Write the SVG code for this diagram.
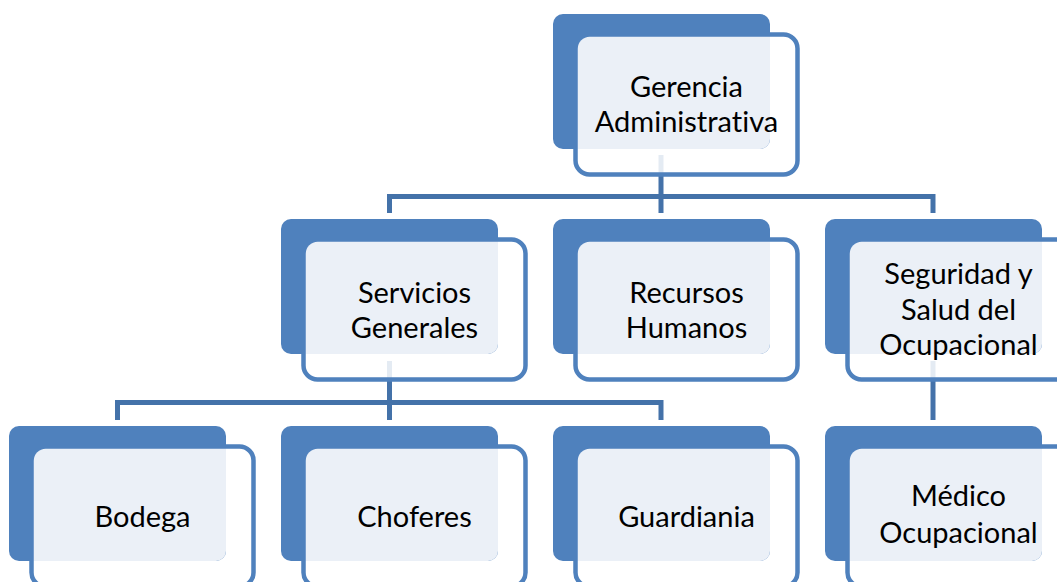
<svg xmlns="http://www.w3.org/2000/svg" width="1057" height="582" viewBox="0 0 1057 582">
<style>
.dk{fill:#4F81BD}
.ol{fill:#fff;fill-opacity:0.86;stroke:#4F81BD;stroke-width:4.5}
.lt{fill:#EBF0F7}
.cn{fill:none;stroke:#4472A9;stroke-width:5;stroke-linejoin:miter;stroke-linecap:butt}
text{font-family:Lato,"Liberation Sans",sans-serif;font-size:29px;fill:#000;text-anchor:middle;font-variant-ligatures:none}
</style>
<defs>
<g id="box">
<rect class="ol" x="22.5" y="20.5" width="222" height="140" rx="14"/>
<rect class="dk" x="0" y="0" width="217" height="135" rx="10"/>
<path class="lt" d="M24.75,34.75 A12,12 0 0 1 36.75,22.75 L217,22.75 L217,125 A10,10 0 0 1 207,135 L24.75,135 Z"/>
</g>
</defs>
<rect width="1057" height="582" fill="#fff"/>
<g id="connectors">
<path class="cn" d="M661,155 V196.5 M389.5,213 V196.5 H933 V213 M661,196.5 V213"/>
<path class="cn" d="M389.5,361 V420 M117.5,420 V402.5 H661 V420"/>
<path class="cn" d="M933,361 V420"/>
</g>
<g id="gerencia" transform="translate(553,14)">
<use href="#box"/>
<text x="133.5" y="83">Gerencia</text>
<text x="133.5" y="118">Administrativa</text>
</g>
<g id="servicios" transform="translate(281,219)">
<use href="#box"/>
<text x="133.5" y="84">Servicios</text>
<text x="133.5" y="119">Generales</text>
</g>
<g id="recursos" transform="translate(553,219)">
<use href="#box"/>
<text x="133.5" y="84">Recursos</text>
<text x="133.5" y="119">Humanos</text>
</g>
<g id="seguridad" transform="translate(825,219)">
<use href="#box"/>
<text x="133.5" y="65">Seguridad y</text>
<text x="133.5" y="100.5">Salud del</text>
<text x="133.5" y="136">Ocupacional</text>
</g>
<g id="bodega" transform="translate(9,426)">
<use href="#box"/>
<text x="133.5" y="100.5">Bodega</text>
</g>
<g id="choferes" transform="translate(281,426)">
<use href="#box"/>
<text x="133.5" y="100.5">Choferes</text>
</g>
<g id="guardiania" transform="translate(553,426)">
<use href="#box"/>
<text x="133.5" y="100.5">Guardiania</text>
</g>
<g id="medico" transform="translate(825,426)">
<use href="#box"/>
<text x="133.5" y="80">Médico</text>
<text x="133.5" y="117">Ocupacional</text>
</g>
</svg>
